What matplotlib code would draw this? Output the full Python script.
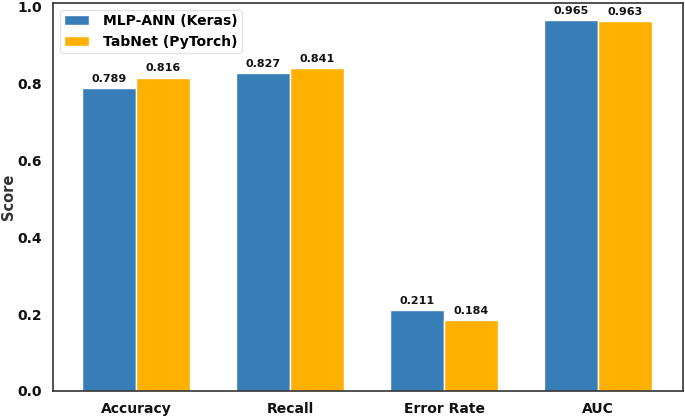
import numpy as np
import matplotlib
matplotlib.use("Agg")
import matplotlib.pyplot as plt

# 数据
metrics = ["Accuracy", "Recall", "Error Rate", "AUC"]
mlp_scores = [0.789, 0.827, 0.211, 0.965]
tabnet_scores = [0.816, 0.841, 0.184, 0.963]
series_names = ["MLP-ANN (Keras)", "TabNet (PyTorch)"]

plt.rcParams['font.family'] = ['DejaVu Sans']
plt.rcParams['font.weight'] = 'bold'

fig = plt.figure(figsize=(6.85, 4.17), dpi=100)
ax = fig.add_axes([0.0774, 0.0624, 0.9196, 0.9304])

x = np.arange(len(metrics))
width = 0.35
b1 = ax.bar(x - width / 2, mlp_scores, width, color="#377eb8", edgecolor="white",
            linewidth=1, label=series_names[0])
b2 = ax.bar(x + width / 2, tabnet_scores, width, color="#ffb000", edgecolor="white",
            linewidth=1, label=series_names[1])

# 柱顶数值
for bars in (b1, b2):
    for rect in bars:
        h = rect.get_height()
        ax.annotate(f"{h:.3f}", (rect.get_x() + rect.get_width() / 2, h),
                    xytext=(0, 3), textcoords="offset points",
                    ha="center", va="bottom", fontsize=8, fontweight="bold", color="#111111")

ax.set_xticks(x)
ax.set_xticklabels(metrics, fontsize=10, fontweight="bold", color="#111111")
ax.set_ylim(0, 1.01)
ax.set_yticks([0.0, 0.2, 0.4, 0.6, 0.8, 1.0])
ax.tick_params(axis="y", labelsize=10, length=0, pad=8, labelcolor="#111111")
ax.tick_params(axis="x", length=0, pad=8)
for lab in ax.get_yticklabels():
    lab.set_fontweight("bold")
ax.set_ylabel("Score", fontsize=10.5, fontweight="bold", color="#333333", labelpad=1)
ax.set_xlim(-0.54, 3.55)

for sp in ax.spines.values():
    sp.set_color("#333333")
    sp.set_linewidth(1.2)

leg = ax.legend(loc="upper left", prop={"weight": "bold", "size": 10},
                frameon=True, borderpad=0.3, handlelength=1.8, labelspacing=0.5,
                handletextpad=1.0)
leg.get_frame().set_edgecolor("#dddddd")

fig.savefig("out.png", dpi=100)
